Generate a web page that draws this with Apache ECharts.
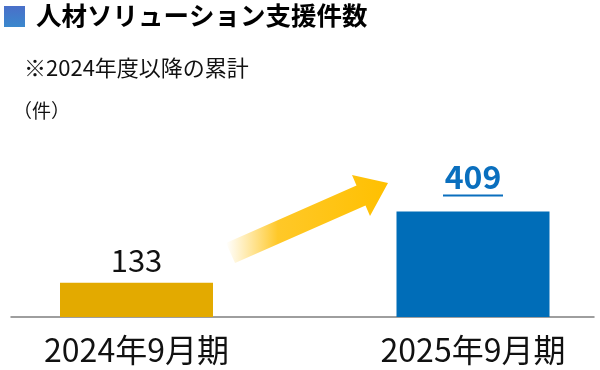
<!DOCTYPE html>
<html><head><meta charset="utf-8">
<script src="https://cdn.jsdelivr.net/npm/echarts@6/dist/echarts.min.js"></script>
<style>html,body{margin:0;padding:0;background:#fff}#c{width:600px;height:370px}</style>
</head><body><div id="c"></div>
<script>
const categories = ['2024年9月期', '2025年9月期'];
const values = [133, 409];
const barColors = ['#E3AA00', '#006DB8'];
const titleText = '人材ソリューション支援件数';
const noteText = '※2024年度以降の累計';
const unitText = '（件）';
const FONT = '"Noto Sans CJK JP","Noto Sans",sans-serif';

const chart = echarts.init(document.getElementById('c'), null, {renderer: 'canvas'});
chart.setOption({
  backgroundColor: '#fff',
  animation: false,
  title: [
    {text: titleText, left: 31, top: -2, textStyle: {fontFamily: FONT, fontSize: 25.5, fontWeight: 'bold', color: '#000'}},
    {text: noteText, left: 19, top: 52, textStyle: {fontFamily: FONT, fontSize: 22, fontWeight: 'normal', color: '#111'}},
    {text: unitText, left: 8, top: 96, textStyle: {fontFamily: FONT, fontSize: 19, fontWeight: 'normal', color: '#111'}}
  ],
  graphic: [
    {type: 'rect', left: 4, top: 6, shape: {width: 21, height: 21},
     style: {fill: {type: 'linear', x: 0, y: 0, x2: 0, y2: 1, colorStops: [{offset: 0, color: '#4A6FC9'}, {offset: 1, color: '#3A88CD'}]}}},
    {type: 'polygon', z: 10,
     shape: {points: [[226, 243], [356.5, 185.5], [352, 175], [388, 183], [370, 216], [365.5, 205.5], [235, 263]]},
     style: {fill: {type: 'linear', x: 0, y: 0, x2: 1, y2: 0, colorStops: [
       {offset: 0, color: 'rgba(255,205,60,0)'}, {offset: 0.32, color: 'rgba(255,200,40,1)'}, {offset: 1, color: '#FFC000'}]}}}
  ],
  grid: [
    {left: 11, right: 6, top: 188, bottom: 53},
    {left: 136.5, right: 127, top: 188, bottom: 53}
  ],
  xAxis: [
    {type: 'category', gridIndex: 0, data: categories, axisLine: {lineStyle: {color: '#7F7F7F', width: 1.5}}, axisTick: {show: false}, axisLabel: {show: false}},
    {type: 'category', gridIndex: 1, data: categories, boundaryGap: false, axisLine: {show: false}, axisTick: {show: false},
     axisLabel: {margin: 17, fontFamily: FONT, fontSize: 32, color: '#111'}}
  ],
  yAxis: [
    {type: 'value', gridIndex: 0, min: 0, max: 500, show: false},
    {type: 'value', gridIndex: 1, min: 0, max: 500, show: false}
  ],
  series: [{
    type: 'bar', xAxisIndex: 1, yAxisIndex: 1, barWidth: 153,
    data: values.map((v, i) => ({
      value: v,
      itemStyle: {color: barColors[i]},
      label: i === 0 ? {
        show: true, position: 'top', distance: 7,
        fontFamily: FONT, fontSize: 31, color: '#111'
      } : {
        show: true, position: 'top', distance: 14,
        formatter: '{n|{c}}\n{u|}',
        rich: {
          n: {fontFamily: FONT, fontSize: 32, fontWeight: 'bold', color: '#0A6FBE', lineHeight: 34},
          u: {width: 60, height: 2, backgroundColor: '#0A6FBE', lineHeight: 4}
        }
      }
    }))
  }]
});
</script></body></html>
